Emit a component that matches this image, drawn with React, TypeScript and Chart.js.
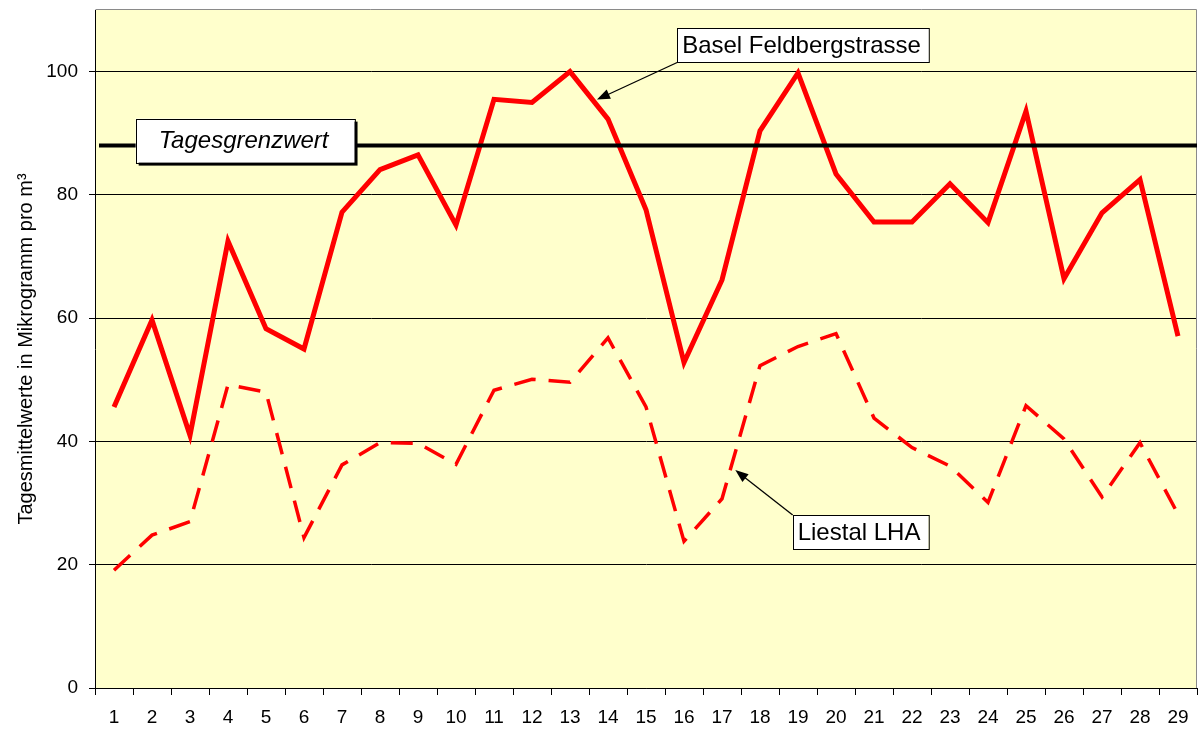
import React, { useEffect, useRef } from "react";
import { Chart, registerables } from "chart.js";

Chart.register(...registerables);

const days = [
  "1", "2", "3", "4", "5", "6", "7", "8", "9", "10",
  "11", "12", "13", "14", "15", "16", "17", "18", "19", "20",
  "21", "22", "23", "24", "25", "26", "27", "28", "29",
];

const baselFeldbergstrasse = [
  45.6, 59.7, 41.0, 72.5, 58.3, 55.0, 77.2, 84.1, 86.5, 75.1,
  95.5, 95.0, 100.0, 92.3, 77.6, 52.8, 66.2, 90.4, 99.8, 83.4,
  75.6, 75.6, 81.8, 75.5, 93.6, 66.4, 77.1, 82.5, 57.1,
];

const liestalLHA = [
  19.1, 24.8, 27.0, 49.2, 48.0, 24.4, 36.2, 39.8, 39.7, 36.3,
  48.3, 50.1, 49.6, 56.8, 45.6, 23.8, 30.7, 52.3, 55.4, 57.5,
  43.8, 39.0, 36.0, 30.1, 45.8, 40.4, 31.0, 39.8, 28.2,
];

const yTicks = [0, 20, 40, 60, 80, 100];
const yMin = 0;
const yMax = 110;
const tagesgrenzwert = 88;

const FONT = "'Liberation Sans', Arial, sans-serif";

// Annotation anchors in data space (day number, value)
const grenzwertBox = { text: "Tagesgrenzwert", day: 1.57, value: 92.38 };
const baselBox = { text: "Basel Feldbergstrasse", day: 15.82, value: 107.0, tipDay: 13.71, tipValue: 95.46 };
const liestalBox = { text: "Liestal LHA", day: 18.86, value: 28.05, tipDay: 17.35, tipValue: 35.35 };

function drawArrow(ctx: CanvasRenderingContext2D, x1: number, y1: number, x2: number, y2: number) {
  const ang = Math.atan2(y2 - y1, x2 - x1);
  const hl = 13;
  const hw = 5;
  ctx.strokeStyle = "#000";
  ctx.fillStyle = "#000";
  ctx.lineWidth = 1.3;
  ctx.beginPath();
  ctx.moveTo(x1, y1);
  ctx.lineTo(x2 - Math.cos(ang) * hl * 0.8, y2 - Math.sin(ang) * hl * 0.8);
  ctx.stroke();
  ctx.beginPath();
  ctx.moveTo(x2, y2);
  ctx.lineTo(
    x2 - Math.cos(ang) * hl - Math.sin(ang) * hw,
    y2 - Math.sin(ang) * hl + Math.cos(ang) * hw
  );
  ctx.lineTo(
    x2 - Math.cos(ang) * hl + Math.sin(ang) * hw,
    y2 - Math.sin(ang) * hl - Math.cos(ang) * hw
  );
  ctx.closePath();
  ctx.fill();
}

const backgroundPlugin = {
  id: "plotBackground",
  beforeDraw(chart: any) {
    const { ctx, chartArea } = chart;
    ctx.save();
    ctx.fillStyle = "#FFFFCC";
    ctx.fillRect(chartArea.left, chartArea.top, chartArea.right - chartArea.left, chartArea.bottom - chartArea.top);
    ctx.restore();
  },
  beforeDatasetsDraw(chart: any) {
    const { ctx, chartArea } = chart;
    ctx.save();
    ctx.strokeStyle = "#8a8a8a";
    ctx.lineWidth = 1;
    ctx.beginPath();
    ctx.moveTo(Math.round(chartArea.left) + 0.5, Math.round(chartArea.top) - 0.5);
    ctx.lineTo(Math.round(chartArea.right) - 0.5, Math.round(chartArea.top) - 0.5);
    ctx.lineTo(Math.round(chartArea.right) - 0.5, Math.round(chartArea.bottom));
    ctx.stroke();
    ctx.restore();
  },
};

const annotationPlugin = {
  id: "annotations",
  afterDatasetsDraw(chart: any) {
    const { ctx, chartArea } = chart;
    const x = chart.scales.x;
    const y = chart.scales.y;
    const px = (d: number) => x.getPixelForValue(d - 1);
    const py = (v: number) => y.getPixelForValue(v);
    ctx.save();

    // Threshold line
    const ty = py(tagesgrenzwert);
    ctx.strokeStyle = "#000";
    ctx.lineWidth = 4;
    ctx.beginPath();
    ctx.moveTo(chartArea.left + 4, ty);
    ctx.lineTo(chartArea.right, ty);
    ctx.stroke();

    // Tagesgrenzwert box with shadow
    ctx.font = `italic 24px ${FONT}`;
    const gw = ctx.measureText(grenzwertBox.text).width;
    const gx = px(grenzwertBox.day);
    const gy = py(grenzwertBox.value);
    const gW = gw + 49;
    const gH = 44;
    ctx.fillStyle = "#000";
    ctx.fillRect(gx + 3, gy + 3, gW, gH);
    ctx.fillStyle = "#fff";
    ctx.fillRect(gx, gy, gW, gH);
    ctx.lineWidth = 1;
    ctx.strokeStyle = "#000";
    ctx.strokeRect(Math.round(gx) + 0.5, Math.round(gy) + 0.5, gW, gH);
    ctx.fillStyle = "#000";
    ctx.textBaseline = "middle";
    ctx.textAlign = "left";
    ctx.fillText(grenzwertBox.text, gx + 23, gy + gH / 2 + 1);

    // Label boxes with arrows
    ctx.font = `24px ${FONT}`;
    const boxes = [
      { b: baselBox, corner: "bottom" },
      { b: liestalBox, corner: "top" },
    ];
    for (const { b, corner } of boxes) {
      const w = ctx.measureText(b.text).width + 13;
      const h = 34;
      const bx = px(b.day);
      const by = py(b.value);
      const sx = bx;
      const sy = corner === "bottom" ? by + h : by;
      drawArrow(ctx, sx, sy, px(b.tipDay), py(b.tipValue));
      ctx.fillStyle = "#fff";
      ctx.fillRect(bx, by, w, h);
      ctx.strokeStyle = "#000";
      ctx.lineWidth = 1;
      ctx.strokeRect(Math.round(bx) + 0.5, Math.round(by) + 0.5, w, h);
      ctx.fillStyle = "#000";
      ctx.textBaseline = "middle";
      ctx.textAlign = "left";
      ctx.fillText(b.text, bx + 5, by + h / 2 + 1);
    }
    ctx.restore();
  },
};

export default function App() {
  const canvasRef = useRef<HTMLCanvasElement | null>(null);

  useEffect(() => {
    const canvas = canvasRef.current;
    if (!canvas) return;
    const chart = new Chart(canvas, {
      type: "line",
      data: {
        labels: days,
        datasets: [
          {
            label: "Basel Feldbergstrasse",
            data: baselFeldbergstrasse,
            borderColor: "#FF0000",
            backgroundColor: "#FF0000",
            borderWidth: 5,
            pointRadius: 0,
            tension: 0,
            fill: false,
          },
          {
            label: "Liestal LHA",
            data: liestalLHA,
            borderColor: "#FF0000",
            backgroundColor: "#FF0000",
            borderWidth: 3.5,
            borderDash: [22, 13],
            pointRadius: 0,
            tension: 0,
            fill: false,
          },
        ],
      },
      options: {
        animation: false,
        responsive: false,
        maintainAspectRatio: false,
        layout: { padding: { left: 0, right: 3, top: 10, bottom: 0 } },
        plugins: {
          legend: { display: false },
          tooltip: { enabled: false },
          title: { display: false },
        },
        scales: {
          x: {
            type: "category",
            offset: true,
            grid: {
              offset: true,
              drawOnChartArea: false,
              drawTicks: true,
              tickLength: 7,
              tickColor: "#000",
              color: "#000",
            },
            border: { display: true, color: "#000", width: 1 },
            ticks: {
              color: "#000",
              font: { family: FONT, size: 19 },
              padding: 11,
              maxRotation: 0,
              autoSkip: false,
            },
            afterFit: (scale: any) => {
              scale.height = 41;
              scale.paddingLeft = 0;
              scale.paddingRight = 0;
            },
          },
          y: {
            type: "linear",
            min: yMin,
            max: yMax,
            afterBuildTicks: (scale: any) => {
              scale.ticks = yTicks.map((v) => ({ value: v }));
            },
            grid: {
              color: "#000",
              lineWidth: 1,
              drawTicks: true,
              tickLength: 6,
              tickColor: "#000",
            },
            border: { display: true, color: "#000", width: 1 },
            ticks: {
              color: "#000",
              font: { family: FONT, size: 19 },
              padding: 11,
            },
            title: {
              display: true,
              text: "Tagesmittelwerte in Mikrogramm pro m³",
              color: "#000",
              font: { family: FONT, size: 20 },
              padding: { top: 14, bottom: 0 },
            },
            afterFit: (scale: any) => {
              scale.width = 95;
              scale.paddingTop = 0;
              scale.paddingBottom = 0;
            },
          },
        },
      },
      plugins: [backgroundPlugin, annotationPlugin],
    });
    return () => chart.destroy();
  }, []);

  return (
    <div style={{ position: "fixed", left: 0, top: 0, width: 1200, height: 729, background: "#fff" }}>
      <canvas ref={canvasRef} width={1200} height={729} style={{ width: 1200, height: 729, display: "block" }} />
    </div>
  );
}
